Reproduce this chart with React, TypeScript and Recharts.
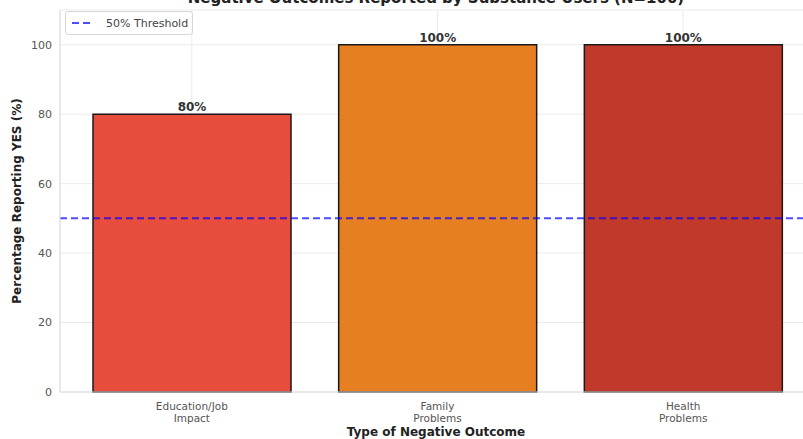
import React from 'react';
import { BarChart, Bar, XAxis, YAxis, CartesianGrid, ReferenceLine, LabelList, Cell } from 'recharts';

// Outcome categories and share of respondents answering YES
const categories = ['Education/Job\nImpact', 'Family\nProblems', 'Health\nProblems'];
const percentYes = [80, 100, 100];
const barColors = ['#e74c3c', '#e67e22', '#c0392b'];
const yTicks = [0, 20, 40, 60, 80, 100];
const threshold = 50;

const data = categories.map((name, i) => ({ name, value: percentYes[i] }));

const textColor = '#333333';
const tickColor = '#555555';
const gridColor = '#ebebeb';
const fontFamily = '"DejaVu Sans", sans-serif';

const MultiLineTick = ({ x, y, payload }: any) => {
  const lines = String(payload.value).split('\n');
  return (
    <text x={x} y={y} textAnchor="middle" fill={tickColor} fontSize={10.5} fontFamily={fontFamily}>
      {lines.map((line, i) => (
        <tspan key={i} x={x} dy={i === 0 ? 10 : 11.5}>{line}</tspan>
      ))}
    </text>
  );
};

export default function App() {
  return (
    <div style={{ position: 'absolute', left: 0, top: 0, width: 803, height: 439, overflow: 'hidden', background: '#fff', fontFamily }}>
      <div style={{ position: 'absolute', left: 0, width: 872, top: -11, textAlign: 'center', fontSize: 15, fontWeight: 'bold', color: '#222' }}>
        Negative Outcomes Reported by Substance Users (N=100)
      </div>
      <BarChart width={850} height={439} data={data} margin={{ top: 10, right: 35, bottom: 0, left: 0 }}>
        <CartesianGrid stroke={gridColor} strokeWidth={1} />
        <XAxis
          dataKey="name"
          height={47}
          padding={{ left: 9, right: 9 }}
          tick={<MultiLineTick />}
          tickLine={false}
          axisLine={{ stroke: '#dddddd' }}
          interval={0}
        />
        <YAxis
          width={60}
          domain={[0, 110]}
          ticks={yTicks}
          tickLine={false}
          axisLine={{ stroke: '#dddddd' }}
          tick={{ fill: tickColor, fontSize: 11, fontFamily }}
        />
        <Bar dataKey="value" barSize={198} stroke="#1a1a1a" strokeWidth={1.5} isAnimationActive={false}>
          {data.map((_, i) => (
            <Cell key={`cell-${i}`} fill={barColors[i]} />
          ))}
          <LabelList
            dataKey="value"
            position="top"
            offset={3}
            formatter={(v: any) => `${v}%`}
            style={{ fill: textColor, fontSize: 12, fontWeight: 'bold', fontFamily }}
          />
        </Bar>
        <ReferenceLine y={threshold} stroke="blue" strokeOpacity={0.7} strokeWidth={2} strokeDasharray="7 4" />
      </BarChart>
      {/* axis titles */}
      <div style={{ position: 'absolute', left: 0, width: 872, top: 425, textAlign: 'center', fontSize: 12, fontWeight: 'bold', color: '#222' }}>
        Type of Negative Outcome
      </div>
      <div style={{ position: 'absolute', left: 17, top: 201, transform: 'translate(-50%, -50%) rotate(-90deg)', whiteSpace: 'nowrap', fontSize: 12, fontWeight: 'bold', color: '#222' }}>
        Percentage Reporting YES (%)
      </div>
      {/* legend */}
      <div style={{ position: 'absolute', left: 65, top: 11, width: 126, height: 22, border: '1px solid #d8d8d8', borderRadius: 3, background: 'rgba(255,255,255,0.85)', display: 'flex', alignItems: 'center', fontSize: 11, color: '#444' }}>
        <svg width={30} height={10} style={{ marginLeft: 6 }}>
          <line x1={0} y1={5} x2={22} y2={5} stroke="blue" strokeOpacity={0.7} strokeWidth={2} strokeDasharray="7 4" />
        </svg>
        <span style={{ marginLeft: 4 }}>50% Threshold</span>
      </div>
    </div>
  );
}
